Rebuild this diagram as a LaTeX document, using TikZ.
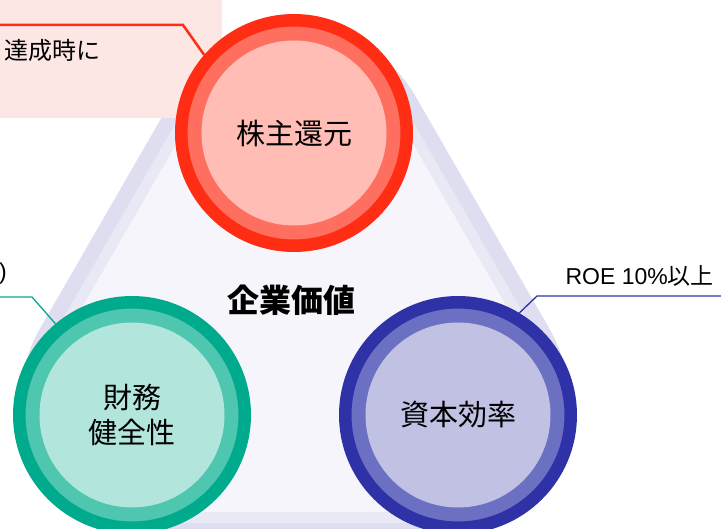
\documentclass[tikz,border=0pt]{standalone}
\usepackage{fontspec}
\setmainfont{Liberation Sans}
\newfontfamily\jp{Noto Sans CJK JP}
\usetikzlibrary{positioning}
\definecolor{myred}{RGB}{255,45,20}
\definecolor{myredmid}{RGB}{255,111,95}
\definecolor{myredin}{RGB}{255,189,182}
\definecolor{mygreen}{RGB}{0,170,140}
\definecolor{mygreenmid}{RGB}{78,198,176}
\definecolor{mygreenin}{RGB}{178,230,221}
\definecolor{myblue}{RGB}{46,50,166}
\definecolor{mybluemid}{RGB}{107,112,194}
\definecolor{mybluein}{RGB}{193,193,228}
\definecolor{triout}{RGB}{222,222,240}
\definecolor{trimid}{RGB}{233,233,245}
\definecolor{triin}{RGB}{245,245,251}
\definecolor{notebg}{RGB}{253,231,229}
\tikzset{
  ring/.style={circle, draw=#1, fill=#1mid, line width=12.5, inner sep=0,
    minimum size=225.5},
  core/.style={circle, fill=#1in, inner sep=0, minimum size=185, align=center,
    font=\jp\fontsize{29}{35}\selectfont},
  band/.style={line width=#1, line join=round},
  callout/.style={draw=#1, line width=1.3},
  plain/.style={inner sep=0, font=\jp\fontsize{24}{29}\selectfont}
}

\begin{document}
\begin{tikzpicture}[x=1pt, y=-1pt]
\useasboundingbox (0,0) rectangle (721,529);

\coordinate (pk) at (294,133);
\coordinate (pz) at (132,415);
\coordinate (ps) at (458,415);

% triangle behind the circles (corners tucked under the circles)
\coordinate (tk) at (294.7,167);
\coordinate (tz) at (161.5,398);
\coordinate (ts) at (427.8,398);
\draw[band=280, draw=triout, fill=triout] (tk) -- (tz) -- (ts) -- cycle;
\draw[band=250, draw=trimid, fill=trimid] (tk) -- (tz) -- (ts) -- cycle;
\draw[band=228, draw=triin, fill=triin] (tk) -- (tz) -- (ts) -- cycle;

% note box
\fill[notebg] (-5,-5) rectangle (222,118);
\node [plain, anchor=east] (note) at (101,50) {達成時に};

\node [ring=myred] (kabuRing) at (pk) {};
\node [core=myred] (kabu) at (pk) {株主還元};
\node [ring=mygreen] (zaimuRing) at (pz) {};
\node [core=mygreen] (zaimu) at (pz) {財務\\健全性};
\node [ring=myblue] (shihonRing) at (ps) {};
\node [core=myblue] (shihon) at (ps) {資本効率};

\node [plain, font=\jp\bfseries\fontsize{32}{38}\selectfont] (value) at (291,300) {企業価値};

\node [plain, anchor=east, font=\fontsize{23}{28}\selectfont] (zaimuNote) at (7,274) {)};
\node [plain, anchor=east, font=\fontsize{23}{28}\selectfont] (roe) at (714,276) {ROE 10\%{\jp 以上}};

\coordinate (kabuEnd) at (0,25);
\coordinate (zaimuEnd) at (0,297);
\coordinate (shihonEnd) at (721,296);
\draw[callout=myred, line width=2.5] (kabuEnd) -- (183,25) -- (kabuRing.139);
\draw[callout=mygreen] (zaimuEnd) -- (32,297) -- (zaimuRing.130);
\draw[callout=myblue] (shihonEnd) -- (537,296) -- (shihonRing.59);

\end{tikzpicture}
\end{document}
